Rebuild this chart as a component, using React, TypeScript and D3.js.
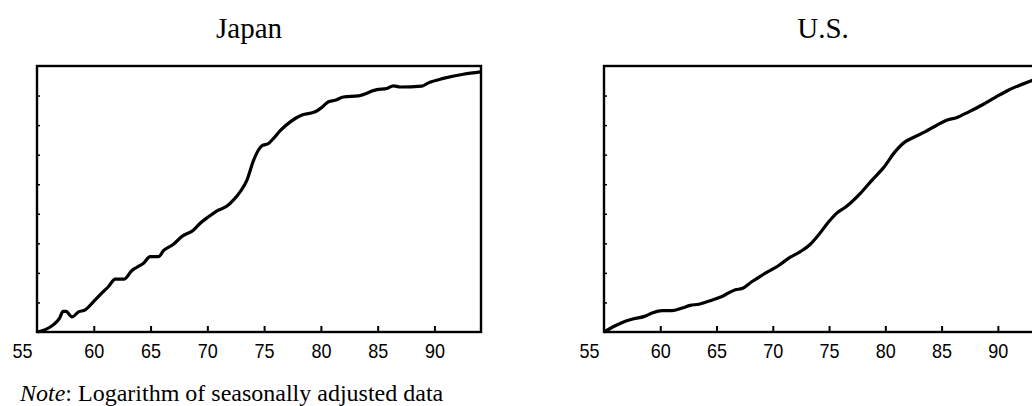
import React, {useRef, useEffect} from 'react';
import * as d3 from 'd3';

// values (log scale, arbitrary units)
const japanYears = [55.05, 55.73, 56.46, 56.99, 57.29, 57.55, 58.08, 58.66, 59.25, 59.98, 60.72, 61.3, 61.89, 62.68, 63.36, 63.8, 64.38, 64.97, 65.7, 66.14, 67.02, 67.76, 68.79, 69.37, 70.11, 70.85, 71.73, 72.31, 72.9, 73.49, 74.07, 74.81, 75.39, 75.83, 76.42, 77.3, 78.33, 79.5, 80.09, 80.67, 81.26, 81.99, 83.31, 84.93, 85.81, 86.39, 86.98, 88.89, 89.47, 90.79, 92.55, 94.08];
const japanValues = [0, 0.08, 0.25, 0.47, 0.7, 0.7, 0.51, 0.68, 0.75, 1.03, 1.32, 1.54, 1.79, 1.79, 2.08, 2.19, 2.33, 2.55, 2.55, 2.75, 2.97, 3.23, 3.45, 3.68, 3.9, 4.1, 4.26, 4.47, 4.75, 5.14, 5.81, 6.3, 6.38, 6.55, 6.81, 7.11, 7.34, 7.45, 7.6, 7.79, 7.84, 7.95, 7.99, 8.2, 8.24, 8.33, 8.29, 8.32, 8.43, 8.58, 8.72, 8.8];

const usYears = [55, 56, 56.89, 57.64, 58.53, 59.27, 60.16, 61.04, 61.93, 62.67, 63.42, 64.45, 65.49, 66.67, 67.27, 68.16, 69.34, 70.53, 71.42, 72.45, 73.34, 74.08, 74.97, 75.71, 76.45, 77.78, 78.82, 79.86, 80.89, 81.78, 82.53, 83.56, 84.45, 85.34, 86.38, 87.42, 88.6, 89.78, 90.97, 92, 93.1];
const usValues = [0, 0.21, 0.36, 0.45, 0.52, 0.64, 0.72, 0.72, 0.81, 0.9, 0.94, 1.06, 1.2, 1.43, 1.47, 1.71, 1.99, 2.25, 2.5, 2.72, 2.97, 3.29, 3.73, 4.03, 4.22, 4.69, 5.14, 5.57, 6.11, 6.44, 6.59, 6.78, 6.97, 7.15, 7.26, 7.45, 7.68, 7.94, 8.19, 8.36, 8.52];

const xTicks = [55, 60, 65, 70, 75, 80, 85, 90];
const yTicks = [1, 2, 3, 4, 5, 6, 7, 8];
const xDomain = [55, 94.1];
const yDomain = [0, 9];

const labelFont = "'Liberation Sans', Arial, sans-serif";
const serifFont = "'Liberation Serif', 'Times New Roman', serif";

function Panel({title, years, values, left, width, titleX}) {
	const xAxisRef = useRef(null);
	const yAxisRef = useRef(null);

	const top = 66, height = 266;
	const scaleX = d3.scaleLinear().domain(xDomain).range([0, width]);
	const scaleY = d3.scaleLinear().domain(yDomain).range([height, 0]);

	const lineGen = d3.line()
		.x(d => scaleX(d[0]))
		.y(d => scaleY(d[1]))
		.curve(d3.curveMonotoneX);
	const pts = years.map((y, i) => [y, values[i]]);

	useEffect(() => {
		const axisX = d3.axisBottom(scaleX)
			.tickValues(xTicks)
			.tickSizeInner(-6)
			.tickSizeOuter(0)
			.tickPadding(0)
			.tickFormat(d3.format('d'));

		const gx = d3.select(xAxisRef.current).call(axisX);
		gx.select('.domain').remove();
		gx.selectAll('line').attr('stroke', '#000').attr('stroke-width', 2);
		// condensed look: squeeze each label to a fixed width
		gx.selectAll('text')
			.attr('fill', '#000')
			.attr('dy', null)
			.attr('y', 26)
			.attr('textLength', 20)
			.attr('lengthAdjust', 'spacingAndGlyphs')
			.attr('font-family', labelFont)
			.attr('font-size', 21);
		// first label sits outside the frame, no tick mark
		gx.selectAll('.tick').filter(d => d === 55)
			.call(t => t.select('line').remove())
			.select('text').attr('text-anchor', 'end').attr('x', -5);

		const axisY = d3.axisLeft(scaleY)
			.tickValues(yTicks)
			.tickSizeInner(-3)
			.tickSizeOuter(0)
			.tickFormat('');
		const gy = d3.select(yAxisRef.current).call(axisY);
		gy.select('.domain').remove();
		gy.selectAll('line').attr('stroke', '#000').attr('stroke-width', 1.5);
	}, []);

	return (
		<g>
			<text x={titleX} y={38} textAnchor='middle'
				fontFamily={serifFont} fontSize={29} fill='#000'>{title}</text>
			<g transform={`translate(${left},${top})`}>
				<rect x={0} y={0} width={width} height={height} fill='none' stroke='#000' strokeWidth={2.4}/>
				<g ref={yAxisRef}/>
				<g ref={xAxisRef} transform={`translate(0,${height})`}/>
				<path d={lineGen(pts)} fill='none' stroke='#000' strokeWidth={3.2} strokeLinejoin='round'/>
			</g>
		</g>
	);
}

export default function App() {
	return (
		<svg width={1032} height={406}
			style={{position: 'absolute', left: 0, top: 0, background: '#fff'}}>
			<Panel title='Japan' years={japanYears} values={japanValues} left={37} width={444} titleX={249}/>
			<Panel title='U.S.' years={usYears} values={usValues} left={604} width={440} titleX={823}/>
			<text x={20} y={401} fontFamily={serifFont} fontSize={24} fill='#000'>
				<tspan fontStyle='italic' fontFamily={serifFont}>Note</tspan>: Logarithm of seasonally adjusted data
			</text>
		</svg>
	);
}
